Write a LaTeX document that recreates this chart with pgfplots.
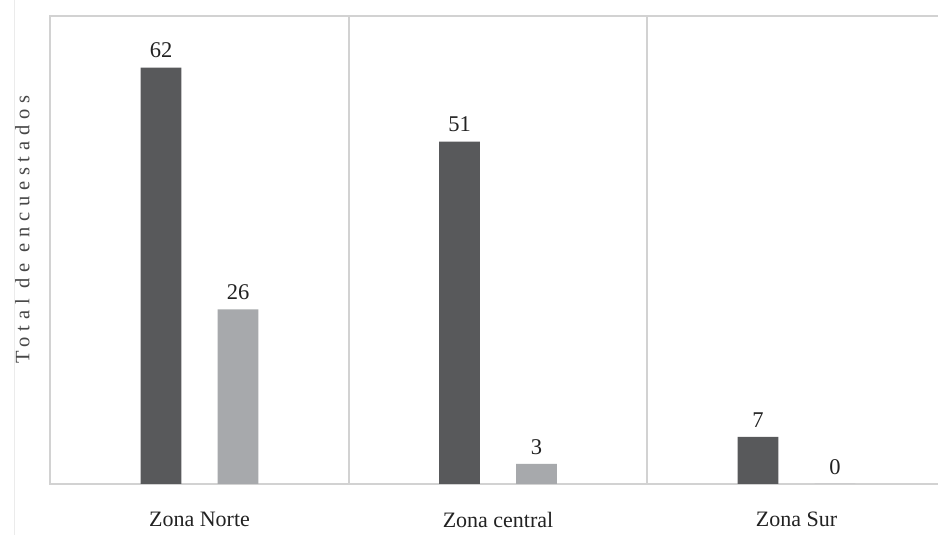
\documentclass[border=0pt]{standalone}
\usepackage{fontspec}
\setmainfont{Liberation Serif}
\usepackage{pgfplots}
\pgfplotsset{compat=1.18}
\definecolor{darkbar}{HTML}{58595B}
\definecolor{lightbar}{HTML}{A7A9AC}
\definecolor{framec}{HTML}{D2D2D2}
\definecolor{txt}{HTML}{222222}
\definecolor{ylab}{HTML}{474747}
\begin{document}
\begin{tikzpicture}[x=1pt,y=1pt]
\useasboundingbox (0,0) rectangle (938,535);
\fill[white] (0,0) rectangle (938,535);
\draw[black!8, line width=1pt] (14,0) -- (14,535);
\begin{axis}[
  at={(50pt,51pt)}, anchor=south west,
  scale only axis, width=891pt, height=468pt,
  xmin=-0.501, xmax=2.484, ymin=0, ymax=69.7,
  axis line style={draw=none},
  major tick style={draw=none},
  ybar, bar width=0.137,
  xtick={0,1,2},
  xticklabels={Zona Norte, Zona central, Zona Sur},
  xticklabel style={font=\fontsize{22}{22}\selectfont, text=txt, yshift=-20pt},
  ytick=\empty,
  /pgf/number format/assume math mode=true,
  clip=false,
  nodes near coords,
  every node near coord/.append style={font=\fontsize{22.5}{22.5}\selectfont, text=txt, yshift=6pt},
  ylabel={\addfontfeature{LetterSpace=28}Total de encuestados},
  ylabel style={at={(rel axis cs:-0.031,0.543)}, anchor=center, font=\fontsize{20.5}{20.5}\selectfont, text=ylab},
]
\draw[framec, line width=1.6pt] (rel axis cs:1.01,1) -- (rel axis cs:0,1) -- (rel axis cs:0,0) -- (rel axis cs:1.01,0);
\draw[framec, line width=1.6pt] (axis cs:0.5,0) -- (axis cs:0.5,69.7);
\draw[framec, line width=1.6pt] (axis cs:1.5,0) -- (axis cs:1.5,69.7);
\addplot[fill=darkbar, draw=none, bar shift=-0.129] coordinates {(0,62) (1,51) (2,7)};
\addplot[fill=lightbar, draw=none, bar shift=0.129] coordinates {(0,26) (1,3) (2,0)};
\end{axis}
\end{tikzpicture}
\end{document}
